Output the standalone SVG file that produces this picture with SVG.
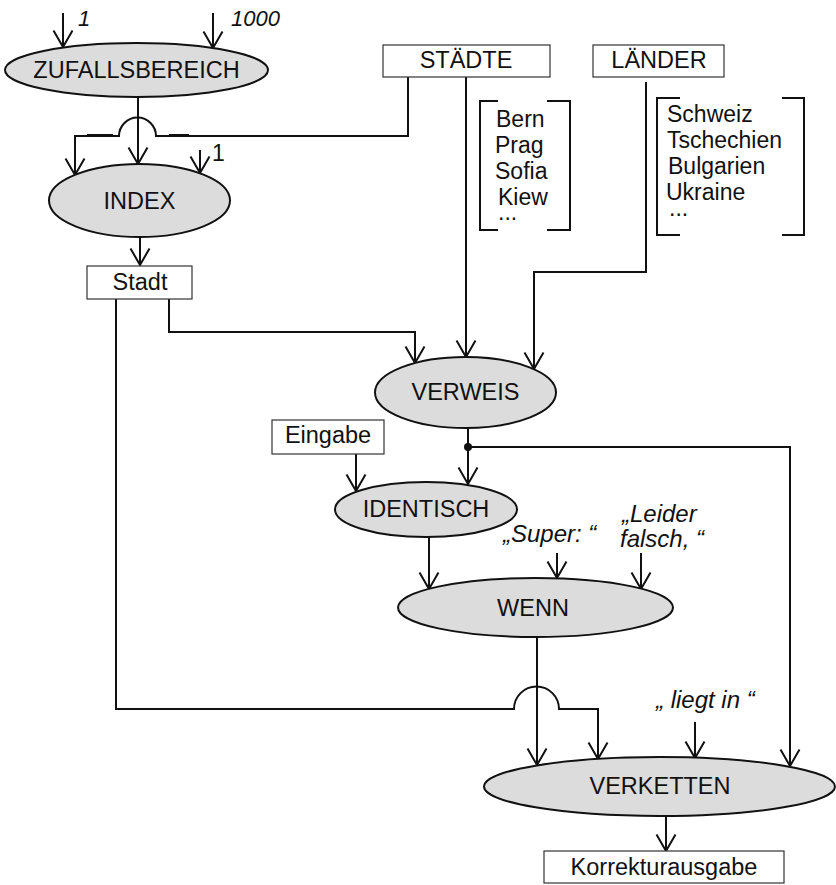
<svg xmlns="http://www.w3.org/2000/svg" width="836" height="885" viewBox="0 0 836 885">
  <defs>
    <style>
      text { font-family: "Liberation Sans", Arial, Helvetica, sans-serif; fill: #111; }
      .lbl { font-size: 23.5px; text-anchor: middle; }
      .lst { font-size: 23px; }
      .it { font-size: 22px; font-style: italic; }
      .q { font-size: 24px; font-style: italic; }
      .op ellipse { fill: #dcdcdc; stroke: #111; stroke-width: 2; }
      .box rect { fill: #fff; stroke: #333; stroke-width: 1.2; }
      .wire { fill: none; stroke: #111; stroke-width: 2; }
      .wire path.arr { marker-end: url(#v); }
      .brk { fill: none; stroke: #111; stroke-width: 2; }
    </style>
    <marker id="v" markerUnits="userSpaceOnUse" markerWidth="22" markerHeight="24" refX="18" refY="11" orient="auto" viewBox="0 0 22 24" overflow="visible">
      <path d="M1.5,1.5 L18,11 L1.5,20.5" fill="none" stroke="#111" stroke-width="2"/>
    </marker>
  </defs>

  <rect width="836" height="885" fill="#fff"/>

  <!-- connectors -->
  <g id="connectors" class="wire">
    <path class="arr" d="M63,13 V47"/>
    <path class="arr" d="M213,13 V48"/>
    <path class="arr" d="M138,97 V164"/>
    <path class="arr" d="M408,77 V136 H156 A18.5,18.5 0 0 0 119,136 H75 V175"/>
    <path d="M87,135.5 H113 M169,135.5 H189" stroke-width="3"/>
    <path class="arr" d="M200,150 V173"/>
    <path class="arr" d="M140,237 V265"/>
    <path class="arr" d="M169,299 V332 H415 V363"/>
    <path class="arr" d="M466,77 V357"/>
    <path class="arr" d="M646,82 V272 H534 V369"/>
    <path class="arr" d="M468,428 V484"/>
    <path d="M468,447 H790 V766" class="arr"/>
    <circle cx="468" cy="447" r="4" fill="#111" stroke="none"/>
    <path class="arr" d="M356,454 V491"/>
    <path class="arr" d="M429,537 V589"/>
    <path class="arr" d="M557,553 V578"/>
    <path class="arr" d="M641,553 V589"/>
    <path class="arr" d="M537,637 V765"/>
    <path class="arr" d="M116,299 V709 H514 A22.5,22.5 0 0 1 559,709 H598 V759"/>
    <path class="arr" d="M695,722 V758"/>
    <path class="arr" d="M666,816 V851"/>
  </g>

  <!-- free labels -->
  <text class="it" x="78" y="26">1</text>
  <text class="it" x="231" y="26">1000</text>
  <text class="lst" x="212" y="161" font-size="20">1</text>

  <!-- operator nodes -->
  <g id="zufallsbereich" class="op">
    <ellipse cx="136.5" cy="70" rx="131.5" ry="27"/>
    <text class="lbl" x="136.5" y="78">ZUFALLSBEREICH</text>
  </g>
  <g id="index" class="op">
    <ellipse cx="139.5" cy="200.5" rx="90.5" ry="36.5"/>
    <text class="lbl" x="139.5" y="208.5">INDEX</text>
  </g>
  <g id="verweis" class="op">
    <ellipse cx="465.5" cy="392.5" rx="90.5" ry="35.5"/>
    <text class="lbl" x="465.5" y="400">VERWEIS</text>
  </g>
  <g id="identisch" class="op">
    <ellipse cx="426" cy="509.5" rx="91" ry="27.5"/>
    <text class="lbl" x="426" y="517">IDENTISCH</text>
  </g>
  <g id="wenn" class="op">
    <ellipse cx="535.5" cy="607.5" rx="137.5" ry="29.5"/>
    <text class="lbl" x="533" y="615.5">WENN</text>
  </g>
  <g id="verketten" class="op">
    <ellipse cx="659.5" cy="786.5" rx="175.5" ry="29.5"/>
    <text class="lbl" x="660" y="794">VERKETTEN</text>
  </g>

  <!-- data boxes -->
  <g id="staedte" class="box">
    <rect x="383" y="45" width="167" height="32"/>
    <text class="lbl" x="466" y="68">STÄDTE</text>
  </g>
  <g id="laender" class="box">
    <rect x="593" y="45" width="131" height="32"/>
    <text class="lbl" x="659" y="68">LÄNDER</text>
  </g>
  <g id="stadt" class="box">
    <rect x="87" y="266" width="105" height="33"/>
    <text class="lbl" x="140" y="290">Stadt</text>
  </g>
  <g id="eingabe" class="box">
    <rect x="272" y="420" width="112" height="34"/>
    <text class="lbl" x="328" y="443">Eingabe</text>
  </g>
  <g id="korrekturausgabe" class="box">
    <rect x="544" y="851" width="240" height="32"/>
    <text class="lbl" x="664" y="875">Korrekturausgabe</text>
  </g>

  <!-- city list -->
  <g id="staedte-liste">
    <path class="brk" d="M498,101 H480 V230 H498 M547,101 H570 V230 H547"/>
    <text class="lst" x="496" y="127">Bern</text>
    <text class="lst" x="495" y="153">Prag</text>
    <text class="lst" x="495" y="179">Sofia</text>
    <text class="lst" x="498" y="205">Kiew</text>
    <text class="lst" x="498" y="220" font-size="16">...</text>
  </g>

  <!-- country list -->
  <g id="laender-liste">
    <path class="brk" d="M680,98 H657 V235 H680 M782,98 H804 V235 H782"/>
    <text class="lst" x="667" y="122">Schweiz</text>
    <text class="lst" x="667" y="148">Tschechien</text>
    <text class="lst" x="668" y="174">Bulgarien</text>
    <text class="lst" x="666" y="200">Ukraine</text>
    <text class="lst" x="669" y="216" font-size="16">...</text>
  </g>

  <!-- constant strings -->
  <text class="q" x="503" y="542">„Super: “</text>
  <text class="q" x="622" y="522">„Leider</text>
  <text class="q" x="620" y="547">falsch, “</text>
  <text class="q" x="656" y="708">„ liegt in “</text>
</svg>
